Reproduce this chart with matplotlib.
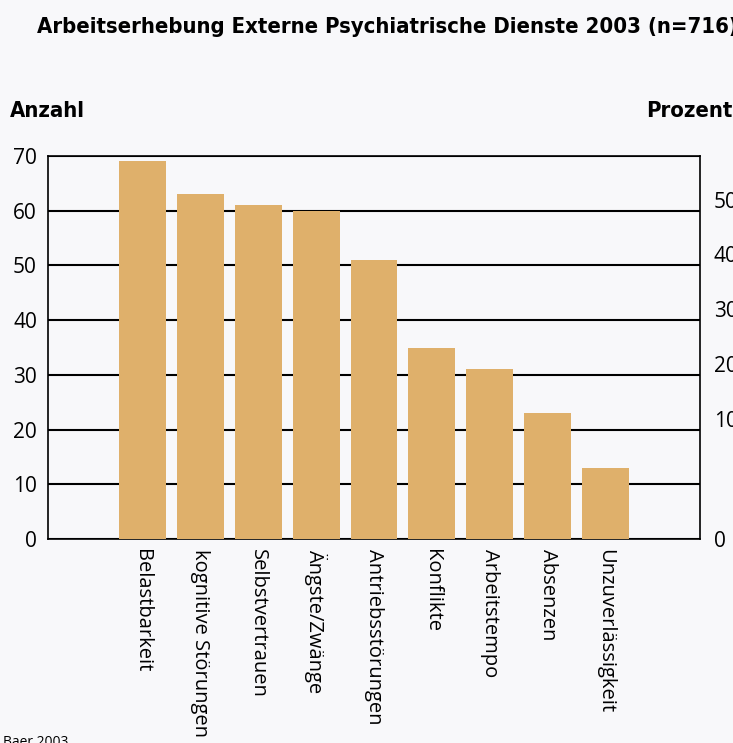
import matplotlib.pyplot as plt

kategorien = ['Belastbarkeit', 'kognitive Störungen', 'Selbstvertrauen', 'Ängste/Zwänge',
              'Antriebsstörungen', 'Konflikte', 'Arbeitstempo', 'Absenzen', 'Unzuverlässigkeit']
anzahl = [69, 63, 61, 60, 51, 35, 31, 23, 13]
anzahl_ticks = [0, 10, 20, 30, 40, 50, 60, 70]
prozent_labels = ['0', '10', '20', '30', '40', '50']
prozent_pos = [0, 22, 32, 42, 52, 62]

bg = '#f8f8fa'
bar_color = '#dfb06b'
label_font = ['Open Sans', 'DejaVu Sans']
head_kw = dict(family=['DejaVu Sans'], fontweight='bold', fontstretch='condensed')

fig = plt.figure(figsize=(7.33, 7.43), dpi=100, facecolor=bg)
ax = fig.add_axes([48 / 733, 204 / 743, 652 / 733, 383 / 743])
ax.set_facecolor(bg)

x = list(range(len(kategorien)))
ax.bar(x, anzahl, width=0.81, color=bar_color, zorder=3)
ax.set_xlim(-1.63, 9.63)
ax.set_ylim(0, 70)
ax.set_yticks(anzahl_ticks)
ax.set_yticklabels([str(t) for t in anzahl_ticks], family=label_font, fontsize=15)
ax.yaxis.grid(True, color='black', linewidth=1.5, zorder=1)
ax.tick_params(axis='y', length=0, pad=8)
ax.set_xticks(x)
ax.set_xticklabels(kategorien, rotation=270, family=label_font, fontsize=14.5,
                   va='top', ha='center')
ax.tick_params(axis='x', length=0, pad=7)
for s in ax.spines.values():
    s.set_color('black')
    s.set_linewidth(1.2)

# right axis: percent labels as in the original
ax2 = ax.twinx()
ax2.set_ylim(0, 70)
ax2.set_yticks(prozent_pos)
ax2.set_yticklabels(prozent_labels, family=label_font, fontsize=15)
ax2.tick_params(axis='y', length=0, pad=10)
for s in ax2.spines.values():
    s.set_visible(False)

fig.text(0.05, 0.964, 'Arbeitserhebung Externe Psychiatrische Dienste 2003 (n=716)',
         fontsize=15.8, va='center', ha='left', **head_kw)
fig.text(0.013, 0.851, 'Anzahl', fontsize=15.8, va='center', ha='left', **head_kw)
fig.text(1.0, 0.851, 'Prozent', fontsize=15.8, va='center', ha='right', **head_kw)
fig.text(0.004, 0.0, 'Baer 2003', family=label_font, fontsize=10, va='center', ha='left')

fig.savefig('out.png', dpi=100, facecolor=bg)
